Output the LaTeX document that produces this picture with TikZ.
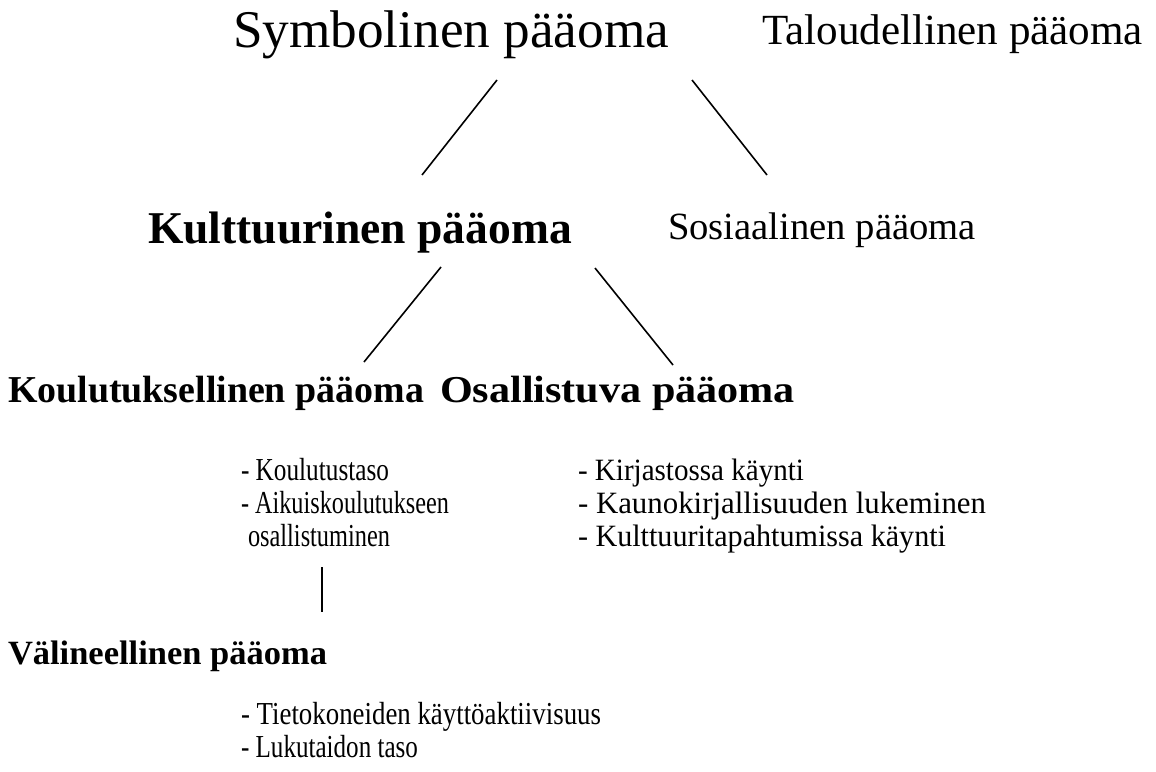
\documentclass[tikz,border=0pt]{standalone}
\usepackage{fontspec}
\usepackage{graphicx}
\setmainfont{Liberation Serif}
\newcommand\fitw[3]{\resizebox{#1pt}{\height}{\fontsize{#2pt}{#2pt}\selectfont #3}}
\begin{document}
\begin{tikzpicture}[x=1pt,y=-1pt,
  lbl/.style={anchor=base west,inner sep=0pt,outer sep=0pt},
  conn/.style={line width=1.6pt,black}]
\fill[white] (0,0) rectangle (1156,771);
\useasboundingbox (0,0) rectangle (1156,771);
% headings
\node[lbl] (sym) at (233,47)  {\fitw{436}{53}{Symbolinen pääoma}};
\node[lbl] (tal) at (762,44)  {\fitw{381}{43}{Taloudellinen pääoma}};
\node[lbl] (kul) at (148,243) {\fitw{424}{45.5}{\bfseries Kulttuurinen pääoma}};
\node[lbl] (sos) at (668,239) {\fitw{308}{38.5}{Sosiaalinen pääoma}};
\node[lbl] (kou) at (8,402)   {\fitw{416}{38}{\bfseries Koulutuksellinen pääoma}};
\node[lbl] (osa) at (440,402) {\fitw{355}{38}{\bfseries Osallistuva pääoma}};
\node[lbl] (val) at (8,664)   {\fitw{319}{34}{\bfseries Välineellinen pääoma}};
% lists
\node[lbl] (k1) at (241,480) {\fitw{148}{32}{- Koulutustaso}};
\node[lbl] (k2) at (241,513) {\fitw{208}{32}{- Aikuiskoulutukseen}};
\node[lbl] (k3) at (248,546) {\fitw{142}{32}{osallistuminen}};
\node[lbl] (o1) at (578,480) {\fitw{226}{31}{- Kirjastossa käynti}};
\node[lbl] (o2) at (578,513) {\fitw{408}{31}{- Kaunokirjallisuuden lukeminen}};
\node[lbl] (o3) at (578,546) {\fitw{368}{31}{- Kulttuuritapahtumissa käynti}};
\node[lbl] (v1) at (241,724) {\fitw{360}{32}{- Tietokoneiden käyttöaktiivisuus}};
\node[lbl] (v2) at (241,757) {\fitw{177}{32}{- Lukutaidon taso}};
% connector end points
\coordinate (symL) at (497,80);  \coordinate (kulT) at (422,175);
\coordinate (symR) at (692,80);  \coordinate (sosT) at (767,175);
\coordinate (kulL) at (441,267); \coordinate (kouT) at (364,362);
\coordinate (kulR) at (595,268); \coordinate (osaT) at (673,365);
\coordinate (kouB) at (322,567); \coordinate (valT) at (322,612);
\draw[conn] (symL) -- (kulT);
\draw[conn] (symR) -- (sosT);
\draw[conn] (kulL) -- (kouT);
\draw[conn] (kulR) -- (osaT);
\draw[conn] (kouB) -- (valT);
\end{tikzpicture}
\end{document}
